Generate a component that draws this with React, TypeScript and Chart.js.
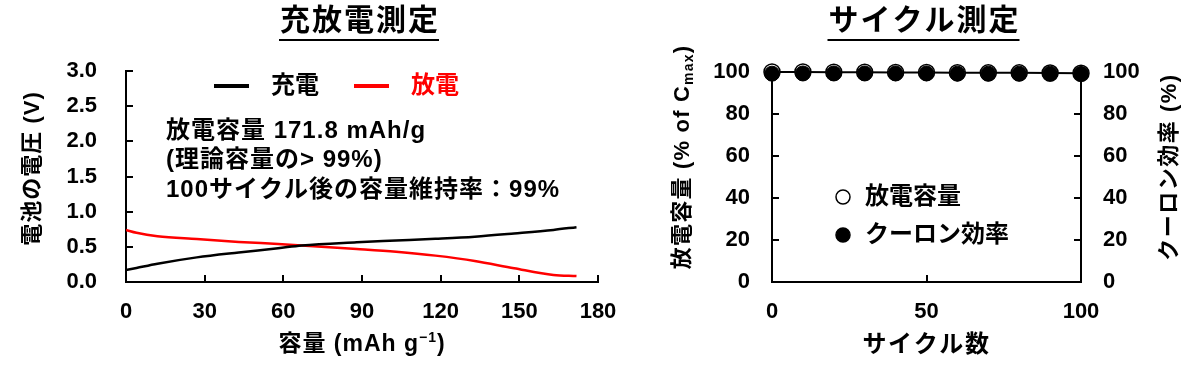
import React, { useEffect, useRef } from "react";
import { Chart, registerables } from "chart.js";

Chart.register(...registerables);

const FONT = '"Liberation Sans", "Noto Sans CJK JP", Arial, sans-serif';

// ---------- 充放電測定 data ----------
const chargeCapacity = [0, 4, 12, 27, 43, 58, 67, 88, 103, 118, 133, 148, 163, 171.8];
const chargeVoltage = [0.17, 0.2, 0.26, 0.35, 0.42, 0.48, 0.52, 0.565, 0.59, 0.615, 0.645, 0.69, 0.74, 0.78];
const dischargeCapacity = [0, 4, 12, 27, 43, 58, 67, 88, 103, 118, 133, 148, 163, 171.8];
const dischargeVoltage = [0.74, 0.7, 0.65, 0.61, 0.57, 0.54, 0.52, 0.47, 0.43, 0.375, 0.3, 0.195, 0.1, 0.085];
const capacityTicks = [0, 30, 60, 90, 120, 150, 180];
const voltageTicks = [0, 0.5, 1, 1.5, 2, 2.5, 3];
const chargeLabels = ["充電", "放電"];
const chargeColors = ["#000000", "#ff0000"];
const annotationLines = ["放電容量 171.8 mAh/g", "(理論容量の> 99%)", "100サイクル後の容量維持率：99%"];

// ---------- サイクル測定 data ----------
const cycleNumber = [0, 10, 20, 30, 40, 50, 60, 70, 80, 90, 100];
const dischargeRetention = [100, 100, 99.9, 99.9, 99.8, 99.8, 99.7, 99.6, 99.6, 99.5, 99.4];
const coulombicEfficiency = [99.2, 99.3, 99.3, 99.3, 99.3, 99.3, 99.2, 99.2, 99.2, 99.2, 99.1];
const cycleTicks = [0, 50, 100];
const percentTicks = [0, 20, 40, 60, 80, 100];
const cycleLabels = ["放電容量", "クーロン効率"];

type Part = { t: string; size?: number; dy?: number };

function drawRich(
  ctx: CanvasRenderingContext2D,
  parts: Part[],
  x: number,
  y: number,
  o: { size: number; spacing: number; color: string; rotate?: number; align: "center" | "left"; underline?: boolean }
) {
  ctx.save();
  ctx.translate(x, y);
  if (o.rotate) ctx.rotate(o.rotate);
  ctx.fillStyle = o.color;
  ctx.textBaseline = "middle";
  ctx.textAlign = "left";
  (ctx as any).letterSpacing = o.spacing + "px";
  const widths = parts.map((p) => {
    ctx.font = `bold ${p.size ?? o.size}px ${FONT}`;
    return ctx.measureText(p.t).width;
  });
  const total = widths.reduce((a, b) => a + b, 0);
  let cx = o.align === "center" ? -total / 2 : 0;
  const start = cx;
  parts.forEach((p, i) => {
    ctx.font = `bold ${p.size ?? o.size}px ${FONT}`;
    ctx.fillText(p.t, cx, p.dy ?? 0);
    cx += widths[i];
  });
  if (o.underline) {
    ctx.strokeStyle = o.color;
    ctx.lineWidth = 2;
    ctx.beginPath();
    ctx.moveTo(start - 1, o.size * 0.6);
    ctx.lineTo(start + total - o.spacing + 1, o.size * 0.6);
    ctx.stroke();
  }
  ctx.restore();
  return total;
}

const inwardTicks = {
  id: "inwardTicks",
  beforeDatasetsDraw(chart: any) {
    const ctx = chart.ctx as CanvasRenderingContext2D;
    ctx.save();
    ctx.strokeStyle = "#000";
    ctx.lineWidth = 2;
    Object.values(chart.scales).forEach((s: any) => {
      s.ticks.forEach((t: any) => {
        const p = Math.round(s.getPixelForValue(t.value));
        ctx.beginPath();
        if (s.isHorizontal()) {
          ctx.moveTo(p, s.top);
          ctx.lineTo(p, s.top - 7);
        } else if (s.position === "left") {
          ctx.moveTo(s.right, p);
          ctx.lineTo(s.right + 7, p);
        } else {
          ctx.moveTo(s.left, p);
          ctx.lineTo(s.left - 7, p);
        }
        ctx.stroke();
      });
    });
    ctx.restore();
  },
};

const tickFont = { family: FONT, size: 22, weight: "bold" as const };

function setTicks(values: number[]) {
  return (scale: any) => {
    scale.ticks = values.map((v) => ({ value: v }));
  };
}

function ChargeChart() {
  const ref = useRef<HTMLCanvasElement>(null);
  useEffect(() => {
    const textPlugin = {
      id: "chargeTexts",
      afterDraw(chart: any) {
        const ctx = chart.ctx as CanvasRenderingContext2D;
        const a = chart.chartArea;
        const cx = (a.left + a.right) / 2;
        // title
        drawRich(ctx, [{ t: "充放電測定" }], cx - 2, 22, { size: 30, spacing: 2, color: "#000", align: "center", underline: true });
        // y title
        drawRich(ctx, [{ t: "電池の電圧 (V)" }], a.left - 93, (a.top + a.bottom) / 2 - 8, {
          size: 22, spacing: 1, color: "#000", align: "center", rotate: -Math.PI / 2,
        });
        // x title
        drawRich(ctx, [{ t: "容量 (mAh g" }, { t: "−1", size: 14, dy: -7 }, { t: ")" }], cx, a.bottom + 63, {
          size: 23, spacing: 1, color: "#000", align: "center",
        });
        // legend
        chart.data.datasets.forEach((ds: any, i: number) => {
          const lx = a.left + 88 + i * 140;
          const ly = a.top + 15;
          ctx.save();
          ctx.strokeStyle = ds.borderColor;
          ctx.lineWidth = 4;
          ctx.beginPath();
          ctx.moveTo(lx, ly);
          ctx.lineTo(lx + 35, ly);
          ctx.stroke();
          ctx.restore();
          drawRich(ctx, [{ t: ds.label }], lx + 57, ly, { size: 24, spacing: 0, color: ds.borderColor, align: "left" });
        });
        // annotation
        annotationLines.forEach((line, i) => {
          drawRich(ctx, [{ t: line }], a.left + 40, a.top + 60 + i * 29.5, { size: 24, spacing: 1, color: "#000", align: "left" });
        });
      },
    };
    const chart = new Chart(ref.current!, {
      type: "scatter",
      data: {
        datasets: [
          {
            label: chargeLabels[0],
            data: chargeCapacity.map((c, i) => ({ x: c, y: chargeVoltage[i] })),
            borderColor: chargeColors[0],
            backgroundColor: chargeColors[0],
            borderWidth: 2.5,
            pointRadius: 0,
            showLine: true,
            cubicInterpolationMode: "monotone",
          },
          {
            label: chargeLabels[1],
            data: dischargeCapacity.map((c, i) => ({ x: c, y: dischargeVoltage[i] })),
            borderColor: chargeColors[1],
            backgroundColor: chargeColors[1],
            borderWidth: 2.5,
            pointRadius: 0,
            showLine: true,
            cubicInterpolationMode: "monotone",
          },
        ],
      },
      options: {
        responsive: false,
        animation: false,
        events: [],
        layout: { padding: { top: 71, right: 42, left: 0, bottom: 0 }, autoPadding: false },
        plugins: { legend: { display: false }, tooltip: { enabled: false }, title: { display: false } },
        scales: {
          x: {
            type: "linear",
            min: 0,
            max: 180,
            afterBuildTicks: setTicks(capacityTicks),
            afterFit: (s: any) => { s.height = 84; },
            grid: { display: false, drawTicks: false },
            border: { display: true, color: "#000", width: 2 },
            ticks: { font: tickFont, color: "#000", padding: 17, maxRotation: 0, autoSkip: false },
          },
          y: {
            type: "linear",
            min: 0,
            max: 3,
            afterBuildTicks: setTicks(voltageTicks),
            afterFit: (s: any) => { s.width = 126; },
            grid: { display: false, drawTicks: false },
            border: { display: true, color: "#000", width: 2 },
            ticks: { font: tickFont, color: "#000", padding: 29, autoSkip: false, callback: (v: any) => Number(v).toFixed(1) },
          },
        },
      },
      plugins: [inwardTicks, textPlugin],
    } as any);
    return () => chart.destroy();
  }, []);
  return <canvas ref={ref} width={640} height={366} style={{ position: "absolute", left: 0, top: 0, display: "block" }} />;
}

function CycleChart() {
  const ref = useRef<HTMLCanvasElement>(null);
  useEffect(() => {
    const textPlugin = {
      id: "cycleTexts",
      afterDraw(chart: any) {
        const ctx = chart.ctx as CanvasRenderingContext2D;
        const a = chart.chartArea;
        const cx = (a.left + a.right) / 2;
        drawRich(ctx, [{ t: "サイクル測定" }], cx - 2, 22, { size: 30, spacing: 2, color: "#000", align: "center", underline: true });
        drawRich(ctx, [{ t: "放電容量 (% of C" }, { t: "max", size: 14, dy: 6 }, { t: ")" }], 43, 157, {
          size: 22, spacing: 1.2, color: "#000", align: "center", rotate: -Math.PI / 2,
        });
        drawRich(ctx, [{ t: "クーロン効率 (%)" }], a.right + 89, 167, {
          size: 22, spacing: 1.5, color: "#000", align: "center", rotate: -Math.PI / 2,
        });
        drawRich(ctx, [{ t: "サイクル数" }], cx, a.bottom + 63, { size: 24, spacing: 1.6, color: "#000", align: "center" });
        // legend
        chart.data.datasets.forEach((ds: any, i: number) => {
          const lx = a.left + 71;
          const ly = a.top + 125 + i * 38;
          ctx.save();
          ctx.beginPath();
          ctx.arc(lx, ly, 7, 0, Math.PI * 2);
          ctx.fillStyle = ds.pointBackgroundColor;
          ctx.fill();
          ctx.lineWidth = 1.5;
          ctx.strokeStyle = "#000";
          ctx.stroke();
          ctx.restore();
          drawRich(ctx, [{ t: ds.label }], lx + 22, ly, { size: 24, spacing: 0, color: "#000", align: "left" });
        });
      },
    };
    const chart = new Chart(ref.current!, {
      type: "scatter",
      data: {
        datasets: [
          {
            label: cycleLabels[0],
            data: cycleNumber.map((c, i) => ({ x: c, y: dischargeRetention[i] })),
            yAxisID: "y",
            showLine: true,
            borderColor: "#000",
            borderWidth: 2,
            pointRadius: 8,
            pointBackgroundColor: "#ffffff",
            pointBorderColor: "#000",
            pointBorderWidth: 1.5,
            clip: false,
            order: 2,
          },
          {
            label: cycleLabels[1],
            data: cycleNumber.map((c, i) => ({ x: c, y: coulombicEfficiency[i] })),
            yAxisID: "y2",
            showLine: false,
            borderColor: "#000",
            pointRadius: 7.5,
            pointBackgroundColor: "#000000",
            pointBorderColor: "#000",
            pointBorderWidth: 1,
            clip: false,
            order: 1,
          },
        ],
      },
      options: {
        responsive: false,
        animation: false,
        events: [],
        layout: { padding: { top: 72, right: 0, left: 0, bottom: 0 }, autoPadding: false },
        plugins: { legend: { display: false }, tooltip: { enabled: false }, title: { display: false } },
        scales: {
          x: {
            type: "linear",
            min: 0,
            max: 100,
            afterBuildTicks: setTicks(cycleTicks),
            afterFit: (s: any) => { s.height = 84; },
            grid: { display: false, drawTicks: false },
            border: { display: true, color: "#000", width: 2 },
            ticks: { font: tickFont, color: "#000", padding: 17, maxRotation: 0, autoSkip: false },
          },
          y: {
            type: "linear",
            position: "left",
            min: 0,
            max: 100,
            afterBuildTicks: setTicks(percentTicks),
            afterFit: (s: any) => { s.width = 132; },
            grid: { display: false, drawTicks: false },
            border: { display: true, color: "#000", width: 2 },
            ticks: { font: tickFont, color: "#000", padding: 22, autoSkip: false },
          },
          y2: {
            type: "linear",
            position: "right",
            min: 0,
            max: 100,
            afterBuildTicks: setTicks(percentTicks),
            afterFit: (s: any) => { s.width = 119; },
            grid: { display: false, drawTicks: false },
            border: { display: true, color: "#000", width: 2 },
            ticks: { font: tickFont, color: "#000", padding: 22, autoSkip: false },
          },
        },
      },
      plugins: [inwardTicks, textPlugin],
    } as any);
    return () => chart.destroy();
  }, []);
  return <canvas ref={ref} width={560} height={366} style={{ position: "absolute", left: 640, top: 0, display: "block" }} />;
}

export default function App() {
  return (
    <div style={{ position: "absolute", left: 0, top: 0, width: 1200, height: 366, background: "#ffffff", overflow: "hidden" }}>
      <ChargeChart />
      <CycleChart />
    </div>
  );
}
